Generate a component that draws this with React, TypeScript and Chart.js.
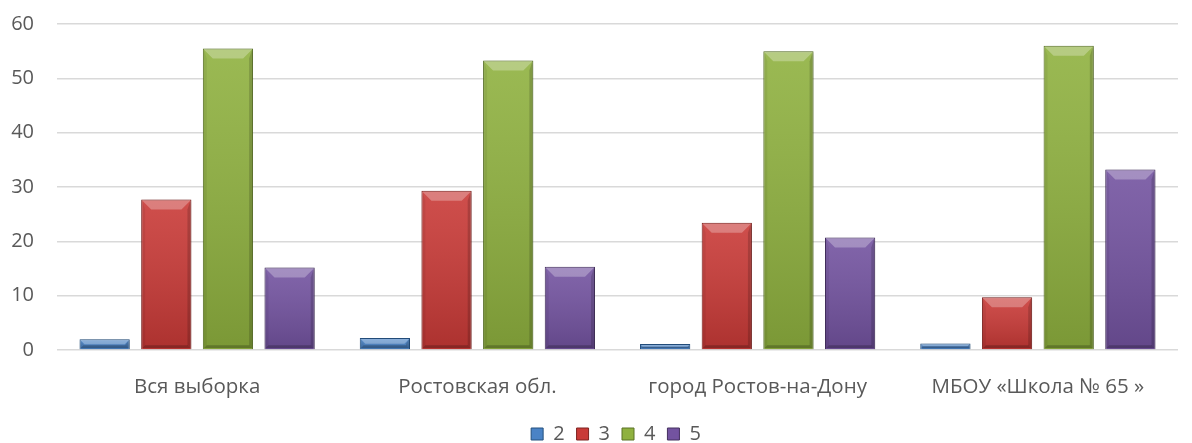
import React, { useEffect, useRef } from "react";
import { Chart, registerables } from "chart.js";

Chart.register(...registerables);

const categories = ["Вся выборка", "Ростовская обл.", "город Ростов-на-Дону", "МБОУ «Школа № 65 »"];
const seriesNames = ["2", "3", "4", "5"];
const grade2 = [2.0, 2.2, 1.1, 1.2];
const grade3 = [27.7, 29.3, 23.4, 9.7];
const grade4 = [55.5, 53.3, 55.0, 56.0];
const grade5 = [15.2, 15.3, 20.7, 33.2];
const yTicks = [0, 10, 20, 30, 40, 50, 60];

const fills = ["#4A83C6", "#C93A37", "#8FB13F", "#7353A0"];
const borders = ["#24507F", "#7E2320", "#5A7326", "#45305F"];

const FONT = "'Open Sans', 'Noto Sans', sans-serif";

const bevelPlugin = {
  id: "bevel",
  afterLayout(chart: any) {
    const lg = chart.legend;
    if (lg) {
      lg.left += 27;
      lg.right += 27;
    }
  },
  beforeDatasetDraw(chart: any) {
    const ctx = chart.ctx;
    ctx.save();
    ctx.shadowColor = "rgba(0,0,0,0.22)";
    ctx.shadowBlur = 4;
    ctx.shadowOffsetX = 1;
    ctx.shadowOffsetY = 1;
  },
  afterDatasetDraw(chart: any, args: any) {
    const ctx = chart.ctx;
    ctx.restore();
    const meta = args.meta;
    meta.data.forEach((bar: any) => {
      const p = bar.getProps(["x", "y", "base", "width"], true);
      const left = p.x - p.width / 2 + 1;
      const right = p.x + p.width / 2 - 1;
      const top = Math.min(p.y, p.base) + 1;
      const bottom = Math.max(p.y, p.base) - 1;
      const h = bottom - top;
      if (h <= 0) return;
      const bt = Math.min(9, h / 2);
      const bs = Math.min(3, h / 2);
      ctx.save();
      const g = ctx.createLinearGradient(0, top, 0, bottom);
      g.addColorStop(0, "rgba(255,255,255,0.10)");
      g.addColorStop(1, "rgba(0,0,0,0.14)");
      ctx.fillStyle = g;
      ctx.fillRect(left, top, right - left, h);
      ctx.beginPath();
      ctx.moveTo(left, top);
      ctx.lineTo(right, top);
      ctx.lineTo(right - bt, top + bt);
      ctx.lineTo(left + bt, top + bt);
      ctx.closePath();
      ctx.fillStyle = "rgba(255,255,255,0.28)";
      ctx.fill();
      ctx.beginPath();
      ctx.moveTo(left, top);
      ctx.lineTo(left + bs, top + bt);
      ctx.lineTo(left + bs, bottom - bs);
      ctx.lineTo(left, bottom);
      ctx.closePath();
      ctx.fillStyle = "rgba(0,0,0,0.06)";
      ctx.fill();
      ctx.beginPath();
      ctx.moveTo(right, top);
      ctx.lineTo(right - bs, top + bt);
      ctx.lineTo(right - bs, bottom - bs);
      ctx.lineTo(right, bottom);
      ctx.closePath();
      ctx.fillStyle = "rgba(0,0,0,0.16)";
      ctx.fill();
      ctx.beginPath();
      ctx.moveTo(left, bottom);
      ctx.lineTo(right, bottom);
      ctx.lineTo(right - bs, bottom - bs);
      ctx.lineTo(left + bs, bottom - bs);
      ctx.closePath();
      ctx.fillStyle = "rgba(0,0,0,0.22)";
      ctx.fill();
      ctx.restore();
    });
  },
};

export default function App() {
  const ref = useRef<HTMLCanvasElement | null>(null);

  useEffect(() => {
    if (!ref.current) return;
    const series = [grade2, grade3, grade4, grade5];
    const chart = new Chart(ref.current, {
      type: "bar",
      data: {
        labels: categories,
        datasets: series.map((d, i) => ({
          label: seriesNames[i],
          data: d,
          backgroundColor: fills[i],
          borderColor: borders[i],
          borderWidth: 1,
          categoryPercentage: 0.88,
          barPercentage: 0.815,
        })),
      },
      options: {
        animation: false,
        responsive: false,
        maintainAspectRatio: false,
        layout: { padding: { top: 24, right: 14, left: 0, bottom: -11 } },
        plugins: {
          legend: {
            position: "bottom",
            labels: {
              boxWidth: 12,
              boxHeight: 12,
              padding: 12,
              color: "#595959",
              font: { family: FONT, size: 20 },
            },
          },
          tooltip: { enabled: false },
        },
        scales: {
          x: {
            grid: { display: false },
            border: { display: false },
            ticks: { color: "#595959", font: { family: FONT, size: 20.5 }, padding: 17, maxRotation: 0 },
            afterFit: (scale: any) => {
              scale.height = 62;
              scale.paddingLeft = 0;
              scale.paddingRight = 0;
            },
          },
          y: {
            min: 0,
            max: 60,
            afterBuildTicks: (scale: any) => {
              scale.ticks = yTicks.map((v) => ({ value: v }));
            },
            afterFit: (scale: any) => {
              scale.width = 57;
              scale.paddingTop = 0;
              scale.paddingBottom = 0;
            },
            grid: { color: "#D9D9D9", lineWidth: 1.5, drawTicks: false },
            border: { display: false },
            ticks: { color: "#595959", font: { family: FONT, size: 20 }, padding: 23 },
          },
        },
      },
      plugins: [bevelPlugin],
    });
    return () => chart.destroy();
  }, []);

  return (
    <div style={{ position: "absolute", left: 0, top: 0, width: 1192, height: 443, background: "#fff" }}>
      <canvas ref={ref} width={1192} height={443} style={{ width: 1192, height: 443 }} />
    </div>
  );
}
